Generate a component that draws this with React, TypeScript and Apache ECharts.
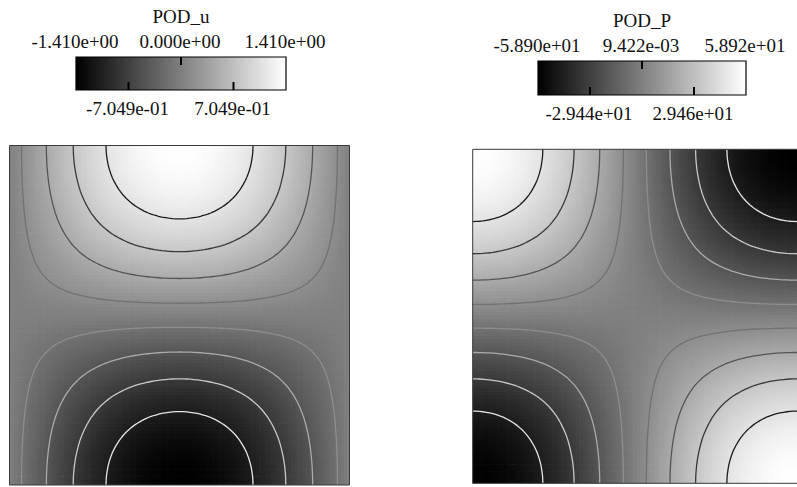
import { useEffect, useRef } from 'react';
import * as echarts from 'echarts';

// Mode shape over a quarter wave: node 0 sits on the wall, node 48 on the centre line.
const quarterWave = [
  0.0, 0.033, 0.065, 0.098, 0.131, 0.163, 0.195, 0.227, 0.259, 0.29, 0.321, 0.352, 0.383,
  0.413, 0.442, 0.471, 0.5, 0.528, 0.556, 0.582, 0.609, 0.634, 0.659, 0.684, 0.707, 0.73,
  0.752, 0.773, 0.793, 0.813, 0.831, 0.849, 0.866, 0.882, 0.897, 0.911, 0.924, 0.936, 0.947,
  0.957, 0.966, 0.974, 0.981, 0.987, 0.991, 0.995, 0.998, 0.999, 1.0,
];

const uTitle = 'POD_u';
const uRange = [-1.41, 1.41];
const uTopLabels = ['-1.410e+00', '0.000e+00', '1.410e+00'];
const uBottomLabels = ['-7.049e-01', '7.049e-01'];

const pTitle = 'POD_P';
const pRange = [-58.9, 58.92];
const pTopLabels = ['-5.890e+01', '9.422e-03', '5.892e+01'];
const pBottomLabels = ['-2.944e+01', '2.946e+01'];

// contour lines split the colour range into equal bands
const bandCount = 9;

const FONT_FAMILY = 'Liberation Serif';

// full-span profiles built from the quarter wave
const arch = [...quarterWave, ...quarterWave.slice(0, -1).reverse()]; // 0 → 1 → 0
const ramp = [...quarterWave.slice().reverse(), ...quarterWave.slice(1).map((v) => -v)]; // 1 → 0 → -1
const rise = ramp.map((v) => -v); // -1 → 0 → 1 (bottom to top)

function buildField(shapeX: number[], shapeY: number[], range: number[]) {
  const amp = (range[1] - range[0]) / 2;
  const mid = (range[1] + range[0]) / 2;
  return shapeY.map((gy) => shapeX.map((fx) => mid + amp * fx * gy));
}

const uField = buildField(arch, rise, uRange);
const pField = buildField(ramp, rise, pRange);

function traceContours(field: number[][], level: number): number[][][] {
  const rows = field.length;
  const cols = field[0].length;
  const points = new Map<string, number[]>();
  const links = new Map<string, string[]>();
  const edgePoint = (i1: number, j1: number, i2: number, j2: number) => {
    const a = j1 * cols + i1;
    const b = j2 * cols + i2;
    const k = a < b ? a + '_' + b : b + '_' + a;
    if (!points.has(k)) {
      const v1 = field[j1][i1];
      const v2 = field[j2][i2];
      const t = (level - v1) / (v2 - v1);
      points.set(k, [(i1 + t * (i2 - i1)) / (cols - 1), (j1 + t * (j2 - j1)) / (rows - 1)]);
    }
    return k;
  };
  const link = (a: string, b: string) => {
    if (!links.has(a)) links.set(a, []);
    if (!links.has(b)) links.set(b, []);
    links.get(a)!.push(b);
    links.get(b)!.push(a);
  };
  for (let j = 0; j < rows - 1; j++) {
    for (let i = 0; i < cols - 1; i++) {
      const c = [
        [i, j],
        [i + 1, j],
        [i + 1, j + 1],
        [i, j + 1],
      ];
      const above = c.map(([x, y]) => field[y][x] > level);
      const cr: string[] = [];
      for (let e = 0; e < 4; e++) {
        const n = (e + 1) % 4;
        if (above[e] !== above[n]) cr.push(edgePoint(c[e][0], c[e][1], c[n][0], c[n][1]));
      }
      if (cr.length === 2) link(cr[0], cr[1]);
      else if (cr.length === 4) {
        const centre = (field[j][i] + field[j][i + 1] + field[j + 1][i + 1] + field[j + 1][i]) / 4;
        if (centre > level === above[0]) {
          link(cr[0], cr[1]);
          link(cr[2], cr[3]);
        } else {
          link(cr[3], cr[0]);
          link(cr[1], cr[2]);
        }
      }
    }
  }
  const used = new Set<string>();
  const walk = (start: string) => {
    const chain = [start];
    used.add(start);
    let cur = start;
    for (;;) {
      const next = (links.get(cur) || []).find((n) => !used.has(n));
      if (!next) break;
      used.add(next);
      chain.push(next);
      cur = next;
    }
    return chain;
  };
  const chains: string[][] = [];
  links.forEach((nb, k) => {
    if (nb.length === 1 && !used.has(k)) chains.push(walk(k));
  });
  links.forEach((_nb, k) => {
    if (!used.has(k)) {
      const ch = walk(k);
      ch.push(ch[0]);
      chains.push(ch);
    }
  });
  return chains.map((ch) => ch.map((k) => points.get(k)!));
}

type Panel = {
  field: number[][];
  range: number[];
  title: string;
  top: string[];
  bottom: string[];
  box: { left: number; top: number; width: number; height: number };
  bar: { x: number; y: number; w: number; h: number };
};

const panels: Panel[] = [
  {
    field: uField,
    range: uRange,
    title: uTitle,
    top: uTopLabels,
    bottom: uBottomLabels,
    box: { left: 9.5, top: 145.5, width: 340, height: 339.5 },
    bar: { x: 76, y: 57, w: 210, h: 33 },
  },
  {
    field: pField,
    range: pRange,
    title: pTitle,
    top: pTopLabels,
    bottom: pBottomLabels,
    box: { left: 472.7, top: 149.3, width: 334, height: 334 },
    bar: { x: 538, y: 61, w: 208, h: 34 },
  },
];

function grayHex(t: number) {
  const g = Math.round(Math.max(0, Math.min(1, t)) * 255);
  const h = g.toString(16).padStart(2, '0');
  return '#' + h + h + h;
}

function buildOption() {
  const grids: any[] = [];
  const xAxes: any[] = [];
  const yAxes: any[] = [];
  const series: any[] = [];
  const visualMaps: any[] = [];
  const graphics: any[] = [];

  panels.forEach((p, idx) => {
    const rows = p.field.length;
    const cols = p.field[0].length;
    const hx = 0.5 / (cols - 1);
    const hy = 0.5 / (rows - 1);
    grids.push({ ...p.box, show: false });
    xAxes.push({ gridIndex: idx, type: 'value', min: 0, max: 1, show: false });
    yAxes.push({ gridIndex: idx, type: 'value', min: 0, max: 1, show: false });

    const cells: number[][] = [];
    for (let j = 0; j < rows; j++) {
      for (let i = 0; i < cols; i++) cells.push([i / (cols - 1), j / (rows - 1), p.field[j][i]]);
    }
    series.push({
      type: 'custom',
      xAxisIndex: idx,
      yAxisIndex: idx,
      dimensions: ['x', 'y', 'value'],
      encode: { x: 0, y: 1 },
      data: cells,
      silent: true,
      progressive: 0,
      progressiveThreshold: 1e9,
      z: 1,
      renderItem: (_params: any, api: any) => {
        const x = api.value(0);
        const y = api.value(1);
        const p0 = api.coord([Math.max(0, x - hx), Math.min(1, y + hy)]);
        const p1 = api.coord([Math.min(1, x + hx), Math.max(0, y - hy)]);
        // slight overlap keeps neighbouring cells seamless
        const w = Math.min(p1[0] - p0[0] + 0.7, p.box.left + p.box.width - p0[0]);
        const h = Math.min(p1[1] - p0[1] + 0.7, p.box.top + p.box.height - p0[1]);
        return {
          type: 'rect',
          shape: { x: p0[0], y: p0[1], width: w, height: h },
          style: { fill: api.visual('color') },
        };
      },
    });
    visualMaps.push({
      type: 'continuous',
      show: false,
      min: p.range[0],
      max: p.range[1],
      dimension: 2,
      seriesIndex: idx * 2,
      inRange: { color: ['#000000', '#ffffff'] },
    });

    const lineData: any[] = [];
    for (let k = 1; k < bandCount; k++) {
      const t = k / bandCount;
      const level = p.range[0] + (p.range[1] - p.range[0]) * t;
      const color = grayHex(1 - t);
      traceContours(p.field, level).forEach((coords) => {
        lineData.push({ coords, lineStyle: { color } });
      });
    }
    series.push({
      type: 'lines',
      coordinateSystem: 'cartesian2d',
      xAxisIndex: idx,
      yAxisIndex: idx,
      polyline: true,
      silent: true,
      z: 3,
      lineStyle: { width: 1.3, opacity: 1 },
      data: lineData,
    });

    // plot frame
    graphics.push({
      type: 'rect',
      z: 100,
      silent: true,
      shape: { x: p.box.left, y: p.box.top, width: p.box.width, height: p.box.height },
      style: { fill: 'none', stroke: '#3a3a3a', lineWidth: 1 },
    });

    // colour bar
    const b = p.bar;
    graphics.push({
      type: 'rect',
      z: 100,
      silent: true,
      shape: { x: b.x, y: b.y, width: b.w, height: b.h },
      style: {
        fill: new echarts.graphic.LinearGradient(0, 0, 1, 0, [
          { offset: 0, color: '#000000' },
          { offset: 1, color: '#ffffff' },
        ]),
        stroke: '#000000',
        lineWidth: 1.2,
      },
    });
    const tickLen = 8;
    const midX = b.x + b.w / 2;
    graphics.push({
      type: 'line',
      z: 101,
      silent: true,
      shape: { x1: midX, y1: b.y, x2: midX, y2: b.y + tickLen },
      style: { stroke: '#000', lineWidth: 2 },
    });
    [0.25, 0.75].forEach((f) => {
      const x = b.x + b.w * f;
      graphics.push({
        type: 'line',
        z: 101,
        silent: true,
        shape: { x1: x, y1: b.y + b.h - tickLen, x2: x, y2: b.y + b.h },
        style: { stroke: '#000', lineWidth: 2 },
      });
    });
    const label = (text: string, x: number, y: number) => ({
      type: 'text',
      z: 101,
      silent: true,
      x,
      y,
      style: {
        text,
        fill: '#111',
        fontSize: 19,
        fontFamily: FONT_FAMILY,
        align: 'center',
        verticalAlign: 'middle',
      },
    });
    graphics.push(label(p.title, midX, b.y - 41));
    [0, 0.5, 1].forEach((f, i) => graphics.push(label(p.top[i], b.x + b.w * f - 1, b.y - 16)));
    [0.25, 0.75].forEach((f, i) => graphics.push(label(p.bottom[i], b.x + b.w * f - 1, b.y + b.h + 18)));
  });

  return {
    animation: false,
    backgroundColor: '#ffffff',
    grid: grids,
    xAxis: xAxes,
    yAxis: yAxes,
    visualMap: visualMaps,
    series,
    graphic: graphics,
  };
}

export default function App() {
  const ref = useRef<HTMLDivElement>(null);
  useEffect(() => {
    if (!ref.current) return;
    const chart = echarts.init(ref.current, undefined, { renderer: 'svg' });
    chart.setOption(buildOption() as any);
    return () => chart.dispose();
  }, []);
  return (
    <div
      ref={ref}
      style={{ position: 'absolute', left: 0, top: 0, width: 797, height: 487, background: '#fff' }}
    />
  );
}
